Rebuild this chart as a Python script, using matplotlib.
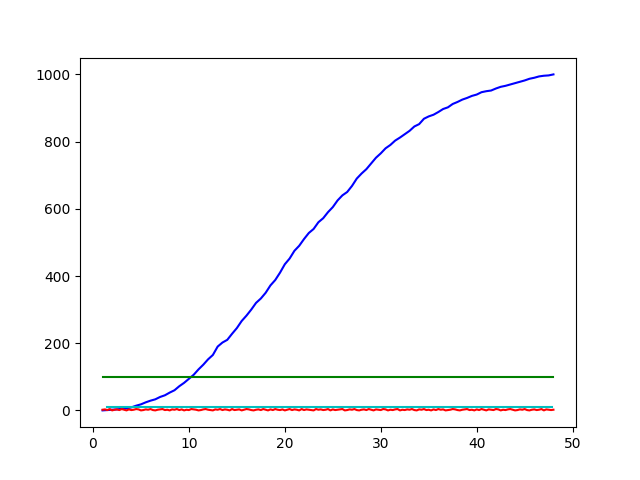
from matplotlib import pyplot as plt

# cumulative total (blue), half-step spacing
steps = [1 + 0.5 * i for i in range(95)]
total = [0, 1, 2, 3, 5, 6, 9, 14, 18, 24,
         29, 33, 40, 45, 53, 60, 72, 82, 94, 106,
         122, 136, 152, 165, 190, 202, 210, 228, 245, 266,
         282, 300, 320, 333, 350, 372, 388, 410, 435, 452,
         475, 490, 510, 528, 540, 560, 572, 590, 605, 625,
         640, 650, 668, 690, 705, 718, 735, 752, 765, 780,
         790, 803, 812, 822, 832, 845, 852, 868, 875, 880,
         888, 897, 902, 912, 918, 925, 930, 936, 940, 947,
         950, 952, 958, 963, 966, 970, 974, 978, 982, 987,
         990, 994, 996, 997, 1000]

# per-sample noise (red), quarter-step spacing
noise_x = [1 + 0.25 * i for i in range(189)]
noise = [2, 3, 1, 4, 0, 2, 3, 1, 4, 2, 0, 3, 1, 2, 4, 3, 0, 1, 3, 2,
         4, 1, 0, 2, 3, 4, 1, 2, 0, 3, 2, 4, 1, 3, 0, 2, 1, 4, 3, 2,
         0, 1, 3, 4, 2, 1, 0, 3, 2, 4, 1, 3, 2, 0, 4, 1, 2, 3, 0, 2,
         4, 3, 1, 0, 2, 3, 1, 4, 2, 0, 3, 1, 4, 2, 1, 3, 0, 2, 4, 1,
         3, 2, 0, 4, 1, 3, 2, 1, 0, 4, 2, 3, 1, 2, 4, 0, 3, 1, 2, 3,
         4, 0, 1, 3, 2, 4, 1, 0, 2, 3, 1, 4, 2, 0, 3, 2, 1, 4, 3, 0,
         2, 1, 3, 4, 0, 2, 1, 3, 2, 4, 1, 0, 3, 2, 4, 1, 2, 0, 3, 1,
         4, 2, 3, 0, 1, 2, 4, 3, 1, 0, 2, 3, 4, 1, 2, 0, 3, 1, 4, 2,
         0, 3, 2, 1, 4, 3, 0, 2, 1, 3, 4, 2, 0, 1, 3, 2, 4, 1, 0, 2,
         3, 1, 2, 4, 0, 3, 2, 1, 2]

# reference levels
upper_level = 100
lower_level = 10
upper_x = [1, 48]
lower_x = [1.5, 47.9]

fig, ax = plt.subplots(figsize=(6.4, 4.8), dpi=100)
ax.plot(steps, total, 'b-')
ax.plot(upper_x, [upper_level] * 2, 'g-')
ax.plot(lower_x, [lower_level] * 2, 'c-')
ax.plot(noise_x, noise, 'r-')
fig.savefig('out.png', dpi=100)
